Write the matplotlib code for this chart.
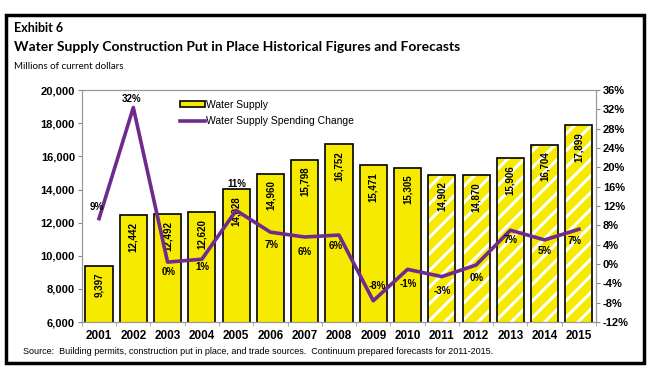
import matplotlib.pyplot as plt
import numpy as np
from matplotlib.patches import Rectangle
from matplotlib.lines import Line2D

plt.rcParams['font.family'] = ['Liberation Sans', 'DejaVu Sans']
plt.rcParams['hatch.linewidth'] = 2.2

# Data
years = ['2001', '2002', '2003', '2004', '2005', '2006', '2007', '2008',
         '2009', '2010', '2011', '2012', '2013', '2014', '2015']
supply = [9397, 12442, 12492, 12620, 14028, 14960, 15798, 16752,
          15471, 15305, 14902, 14870, 15906, 16704, 17899]
change = [9.4, 32.4, 0.4, 1.0, 11.1, 6.6, 5.6, 6.0,
          -7.6, -1.1, -2.6, -0.2, 7.0, 5.0, 7.2]
forecast = [False] * 10 + [True] * 5

# label offsets for the % labels (pixels)
pct_offsets = [(-2, 12), (-2, 9), (1, -10), (1, -8), (1, 26), (1, -13), (0, -15),
               (-3, -11), (4, 15), (1, -15), (1, -14), (1, -13), (0, -10),
               (0, -11), (-4, -12)]

yellow = '#F6EA00'
purple = '#6F2A8E'

fig = plt.figure(figsize=(6.5, 3.74), dpi=100)
ax = fig.add_axes([0.126, 0.139, 0.791, 0.62])
ax2 = ax.twinx()

x = np.arange(len(years))
solid = [i for i in x if not forecast[i]]
fc = [i for i in x if forecast[i]]

ax.bar([x[i] for i in solid], [supply[i] for i in solid], width=0.79,
       color=yellow, edgecolor='black', linewidth=1.2, zorder=2)
ax.bar([x[i] for i in fc], [supply[i] for i in fc], width=0.79,
       color=yellow, edgecolor='white', hatch='//', linewidth=0, zorder=2)
ax.bar([x[i] for i in fc], [supply[i] for i in fc], width=0.79,
       fill=False, edgecolor='black', linewidth=1.2, zorder=3)

for xi, v in zip(x, supply):
    ax.annotate(f'{v:,}', (xi, v), xytext=(0, -5), textcoords='offset points',
                rotation=90, ha='center', va='top', fontsize=7,
                fontweight='bold', zorder=5)

ax.set_ylim(6000, 20000)
ax.set_yticks(range(6000, 20001, 2000))
ax.set_yticklabels([f'{v:,}' for v in range(6000, 20001, 2000)],
                   fontsize=8, fontweight='bold')
ax.set_xlim(-0.5, len(years) - 0.5)
ax.set_xticks(x)
ax.set_xticklabels(years, fontsize=8.5, fontweight='bold')
ax.tick_params(axis='x', length=0, pad=6)
ax.set_xticks(np.arange(-0.5, len(years), 1), minor=True)
ax.tick_params(axis='x', which='minor', length=3, color='#9aa0b0')
ax.tick_params(axis='y', length=3, color='#888888', pad=2)

ax2.plot(x, change, color=purple, linewidth=2.6, zorder=4)
ax2.set_ylim(-12, 36)
ax2.set_yticks(range(-12, 37, 4))
ax2.set_yticklabels([f'{v}%' for v in range(-12, 37, 4)],
                    fontsize=8, fontweight='bold')
ax2.tick_params(axis='y', length=3, color='#888888', pad=2)

for xi, v, (dx, dy) in zip(x, change, pct_offsets):
    ax2.annotate(f'{round(v):d}%', (xi, v), xytext=(dx * 0.72, dy * 0.72),
                 textcoords='offset points', ha='center', va='center',
                 fontsize=7, fontweight='bold', zorder=6)

for a in (ax, ax2):
    for s in a.spines.values():
        s.set_color('#999999')
        s.set_linewidth(0.8)

handles = [Rectangle((0, 0), 1, 1, facecolor=yellow, edgecolor='black', linewidth=1.2),
           Line2D([], [], color=purple, linewidth=2.6)]
ax2.legend(handles, ['Water Supply', 'Water Supply Spending Change'],
           loc='upper left', bbox_to_anchor=(0.18, 0.98), frameon=False,
           fontsize=7.5, handlelength=2.4, handleheight=0.5,
           handletextpad=0.1, labelspacing=0.6, borderpad=0)

fig.text(0.022, 0.925, 'Exhibit 6', fontsize=9, fontweight='bold',
         family=['Lato', 'DejaVu Sans'], va='center')
fig.text(0.022, 0.873, 'Water Supply Construction Put in Place Historical Figures and Forecasts',
         fontsize=10, fontweight='bold', family=['Lato', 'DejaVu Sans'], va='center')
fig.text(0.022, 0.823, 'Millions of current dollars', fontsize=7,
         family=['Lato', 'DejaVu Sans'], va='center')
fig.text(0.036, 0.059, 'Source:  Building permits, construction put in place, and trade sources.  '
         'Continuum prepared forecasts for 2011-2015.', fontsize=6.5, va='center')

fig.patches.append(Rectangle((0.009, 0.03), 0.982, 0.93, transform=fig.transFigure,
                             fill=False, edgecolor='black', linewidth=2.5))

plt.savefig('out.png', dpi=100)
